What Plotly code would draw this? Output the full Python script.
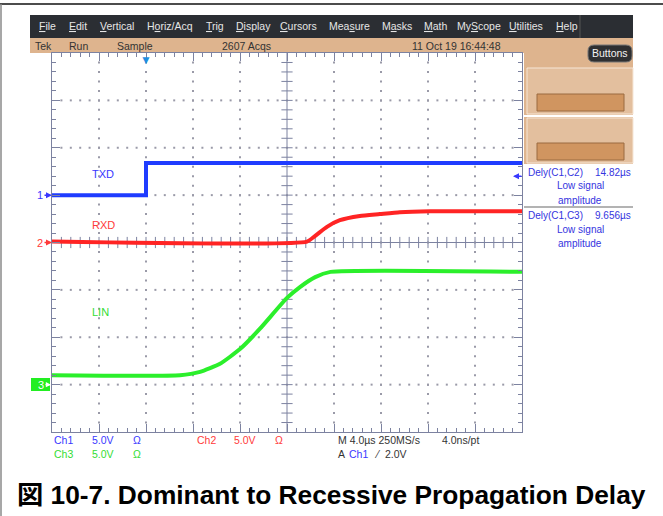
import plotly.graph_objects as go

# ---------------- data ----------------
time_per_div_us = 4.0
volts_per_div = 5.0
x_range_us = [-8.0, 32.0]          # 10 divisions, trigger 2 div from left
n_xdiv, n_ydiv = 10, 8

txd_t = [-8.0, 0.0, 0.0, 32.0]
txd_v = [0.0, 0.0, 3.4, 3.4]

rxd_t = [-8.0, 13.7, 14.4, 15.4, 16.5, 18.2, 19.9, 21.6, 24.2, 32.0]
rxd_v = [0.1, 0.1, 0.7, 1.65, 2.35, 2.8, 3.0, 3.2, 3.3, 3.3]

lin_t = [-8.0, 2.9, 4.6, 6.3, 8.0, 9.7, 12.0, 13.1, 14.4, 15.7, 32.0]
lin_v = [1.0, 1.0, 1.35, 2.2, 3.75, 5.9, 9.15, 10.3, 11.35, 11.9, 11.9]

channel_names = ["TXD", "RXD", "LIN"]
channel_numbers = ["1", "2", "3"]
channel_offsets_div = [1.0, 0.0, -3.0]
trigger_time_us = 0.0
trigger_level_v = 2.0

menu_items = ["<u>F</u>ile", "<u>E</u>dit", "<u>V</u>ertical", "H<u>o</u>riz/Acq", "<u>T</u>rig",
              "<u>D</u>isplay", "<u>C</u>ursors", "Mea<u>s</u>ure", "M<u>a</u>sks", "<u>M</u>ath",
              "My<u>S</u>cope", "<u>U</u>tilities", "<u>H</u>elp"]
status_items = ["Tek", "Run", "Sample", "2607 Acqs", "11 Oct 19 16:44:48"]
meas_labels = ["Dely(C1,C2)", "Dely(C1,C3)"]
meas_values = ["14.82µs", "9.656µs"]
meas_notes = ["Low signal", "amplitude"]
caption = "図 10-7. Dominant to Recessive Propagation Delay"

# ---------------- styling / layout helpers ----------------
W, H = 663, 516
L, R, T, B = 52, 522, 53, 432
UI = "Liberation Sans Narrow, Liberation Sans, Arial, sans-serif"
GRAT = "#7c82a0"
BLUE, RED, GREEN = "#1f3cff", "#ff2424", "#2bef2b"
TBLUE, TRED, TGREEN = "#3838ff", "#ff3a3a", "#33dd33"
TAN = "#deb48e"
colors = [BLUE, RED, GREEN]
tcolors = [TBLUE, TRED, TGREEN]


def fx(px):
    return (px - L) / (R - L)


def fy(py):
    return (B - py) / (B - T)


fig = go.Figure()

# graticule dots on the major dotted lines
x0 = x_range_us[0]
minor_x = [x0 + time_per_div_us / 5 * i for i in range(n_xdiv * 5 + 1)]
minor_y = [-n_ydiv / 2 + 0.2 * j for j in range(n_ydiv * 5 + 1)]
major_x = [x0 + time_per_div_us * i for i in range(1, n_xdiv) if i != n_xdiv // 2]
major_y = [-n_ydiv / 2 + j for j in range(1, n_ydiv) if j != n_ydiv // 2]
dx, dy = [], []
for xv in major_x:
    for yv in minor_y[1:-1]:
        dx.append(xv); dy.append(yv)
for yv in major_y:
    for xv in minor_x[1:-1]:
        dx.append(xv); dy.append(yv)
fig.add_trace(go.Scatter(x=dx, y=dy, mode="markers", hoverinfo="skip",
                         marker=dict(symbol="square", size=2, color="#9a9aa8", line=dict(width=0))))
xc = x0 + time_per_div_us * n_xdiv / 2
# centre-line ticks
fig.add_trace(go.Scatter(x=minor_x[1:-1], y=[0] * (len(minor_x) - 2), mode="markers", hoverinfo="skip",
                         marker=dict(symbol="line-ns", size=8, line=dict(width=1, color=GRAT))))
fig.add_trace(go.Scatter(x=[xc] * (len(minor_y) - 2), y=minor_y[1:-1], mode="markers", hoverinfo="skip",
                         marker=dict(symbol="line-ew", size=8, line=dict(width=1, color=GRAT))))

# waveforms
waves = [(txd_t, txd_v), (rxd_t, rxd_v), (lin_t, lin_v)]
for k in [2, 1, 0]:
    t, v = waves[k]
    yy = [channel_offsets_div[k] + vi / volts_per_div for vi in v]
    shape = "linear" if k == 0 else "spline"
    fig.add_trace(go.Scatter(x=t, y=yy, mode="lines", name=channel_names[k], hoverinfo="skip",
                             line=dict(color=colors[k], width=4, shape=shape, smoothing=0.5)))

shapes = []
ann = []


def rect(x0p, y0p, x1p, y1p, fill, line=None, lw=0):
    shapes.append(dict(type="rect", xref="paper", yref="paper", x0=fx(x0p), x1=fx(x1p),
                       y0=fy(y1p), y1=fy(y0p), fillcolor=fill,
                       line=dict(color=line or fill, width=lw), layer="below"))


def hline(x0p, x1p, yp, color, w=1):
    shapes.append(dict(type="line", xref="paper", yref="paper", x0=fx(x0p), x1=fx(x1p),
                       y0=fy(yp), y1=fy(yp), line=dict(color=color, width=w)))


def vline(xp, y0p, y1p, color, w=1):
    shapes.append(dict(type="line", xref="paper", yref="paper", x0=fx(xp), x1=fx(xp),
                       y0=fy(y0p), y1=fy(y1p), line=dict(color=color, width=w)))


def txt(xp, yp, s, color="#222", size=11, xanchor="left", family=UI):
    ann.append(dict(xref="paper", yref="paper", x=fx(xp), y=fy(yp), text=s, showarrow=False,
                    xanchor=xanchor, yanchor="middle", font=dict(family=family, size=size, color=color)))


# frame of the page
hline(0, W, 4, "#111", 1.5)
vline(1, 4, H, "#8a8a8a", 1.5)

# menu bar and status row
rect(30, 15, 633, 38, "#2b2e33")
vline(580, 15, 38, "#555", 1)
menu_x = [37, 67, 98, 145, 204, 234, 278, 327, 380, 422, 455, 507, 554]
for s, xp in zip(menu_items, menu_x):
    txt(xp, 26.5, s, "#e6e6e6", 10.5)
rect(30, 38, 633, 53, TAN)
status_x = [33, 67, 115, 220, 410]
for s, xp in zip(status_items, status_x):
    txt(xp, 45.5, s, "#333", 10.5)

# right panel
rect(524, 53, 633, 164, TAN)
for (ya, yb) in [(68, 114), (118, 163)]:
    rect(527, ya, 633, yb, "#e3bf9e", "#f6e6d6", 1)
    rect(537, yb - 20, 624, yb - 3, "#d09560", "#9a6a40", 1)
hline(524, 633, 116, "#ffffff", 2)
# Buttons pill (rounded)
bx0, by0, bx1, by1, rr = 588, 45, 632, 62, 6
pts = (f"M {fx(bx0+rr)},{fy(by0)} L {fx(bx1-rr)},{fy(by0)} Q {fx(bx1)},{fy(by0)} {fx(bx1)},{fy(by0+rr)} "
       f"L {fx(bx1)},{fy(by1-rr)} Q {fx(bx1)},{fy(by1)} {fx(bx1-rr)},{fy(by1)} "
       f"L {fx(bx0+rr)},{fy(by1)} Q {fx(bx0)},{fy(by1)} {fx(bx0)},{fy(by1-rr)} "
       f"L {fx(bx0)},{fy(by0+rr)} Q {fx(bx0)},{fy(by0)} {fx(bx0+rr)},{fy(by0)} Z")
shapes.append(dict(type="path", xref="paper", yref="paper", path=pts, fillcolor="#2e2f31",
                   line=dict(color="#777", width=1)))
txt(610, 53.5, "Buttons", "#f2f2f2", 10.5, "center")

# measurements
for i in range(2):
    y0m = 172 + 43 * i
    txt(526, y0m, meas_labels[i], "#3434e0", 10)
    txt(633, y0m, meas_values[i], "#3434e0", 10, "right")
    txt(580, y0m + 14, meas_notes[0], "#3434e0", 10, "center")
    txt(580, y0m + 28, meas_notes[1], "#3434e0", 10, "center")
hline(524, 633, 207, "#9a9a9a", 1.5)

# centre cross lines
shapes.append(dict(type="line", xref="x", yref="paper", x0=xc, x1=xc, y0=0, y1=1,
                   line=dict(color=GRAT, width=1), layer="below"))
shapes.append(dict(type="line", xref="paper", yref="y", x0=0, x1=1, y0=0, y1=0,
                   line=dict(color=GRAT, width=1), layer="below"))

# channel labels on the traces
txt(90, 174, channel_names[0], TBLUE, 11)
txt(90, 225, channel_names[1], TRED, 11)
txt(90, 312, channel_names[2], TGREEN, 11)

# channel ground markers
for k in range(2):
    ann.append(dict(xref="paper", yref="y", x=0, y=channel_offsets_div[k], ax=-12, ay=0,
                    text=channel_numbers[k], showarrow=True, arrowhead=2, arrowsize=0.8,
                    arrowwidth=1.5, arrowcolor=tcolors[k], standoff=0,
                    font=dict(family=UI, size=11, color=tcolors[k])))
rect(31, 378, 50, 391, "#22ee22")
ann.append(dict(xref="paper", yref="y", x=fx(51), y=channel_offsets_div[2], ax=-10, ay=0,
                text=channel_numbers[2], showarrow=True, arrowhead=2, arrowsize=0.8,
                arrowwidth=1.3, arrowcolor="#ffffff", standoff=0,
                font=dict(family=UI, size=11, color="#ffffff")))

# trigger position and trigger level markers
ann.append(dict(xref="x", yref="paper", x=trigger_time_us, y=1.0, text="▼", showarrow=False,
                yanchor="top", yshift=4, font=dict(size=12, color="#1e8ee0")))
ann.append(dict(xref="paper", yref="y", x=fx(513), y=channel_offsets_div[0] + trigger_level_v / volts_per_div,
                ax=10, ay=0, text="", showarrow=True, arrowhead=2, arrowsize=0.8,
                arrowwidth=1.5, arrowcolor=TBLUE, standoff=0))

# bottom readout
r1, r2 = 440, 454
txt(52, r1, "Ch1", TBLUE, 10.5); txt(90, r1, "5.0V", TBLUE, 10.5); txt(131, r1, "Ω", TBLUE, 10.5)
txt(195, r1, "Ch2", TRED, 10.5); txt(232, r1, "5.0V", TRED, 10.5); txt(273, r1, "Ω", TRED, 10.5)
txt(336, r1, "M 4.0µs 250MS/s", "#333", 10.5); txt(440, r1, "4.0ns/pt", "#333", 10.5)
txt(52, r2, "Ch3", TGREEN, 10.5); txt(90, r2, "5.0V", TGREEN, 10.5); txt(131, r2, "Ω", TGREEN, 10.5)
txt(336, r2, "A", "#333", 10.5); txt(347, r2, "Ch1", TBLUE, 10.5)
txt(372, r2, "⁄", "#333", 10.5); txt(383, r2, "2.0V", "#333", 10.5)

# caption
ann.append(dict(xref="paper", yref="paper", x=fx(15), y=fy(495), text="<b>" + caption + "</b>",
                showarrow=False, xanchor="left", yanchor="middle",
                font=dict(family="Liberation Sans, Noto Sans CJK JP, Arial, sans-serif", size=26.3, color="#000")))

fig.update_layout(
    width=W, height=H, autosize=False,
    margin=dict(l=L, r=W - R, t=T, b=H - B, pad=0),
    paper_bgcolor="white", plot_bgcolor="white", showlegend=False,
    shapes=shapes, annotations=ann,
    xaxis=dict(range=x_range_us, showgrid=False, zeroline=False, showticklabels=False,
               showline=True, linecolor=GRAT, linewidth=1, mirror="ticks",
               ticks="inside", tick0=x0, dtick=time_per_div_us, ticklen=8, tickcolor=GRAT,
               minor=dict(ticks="inside", dtick=time_per_div_us / 5, ticklen=4, tickcolor=GRAT, showgrid=False),
               fixedrange=True),
    yaxis=dict(range=[-n_ydiv / 2, n_ydiv / 2], showgrid=False, zeroline=False, showticklabels=False,
               showline=True, linecolor=GRAT, linewidth=1, mirror="ticks",
               ticks="inside", tick0=-n_ydiv / 2, dtick=1, ticklen=8, tickcolor=GRAT,
               minor=dict(ticks="inside", dtick=0.2, ticklen=4, tickcolor=GRAT, showgrid=False),
               fixedrange=True),
)

fig.write_html("out.html", config={"displayModeBar": False},
               post_script="document.body.style.margin='0';document.body.style.overflow='hidden';")
